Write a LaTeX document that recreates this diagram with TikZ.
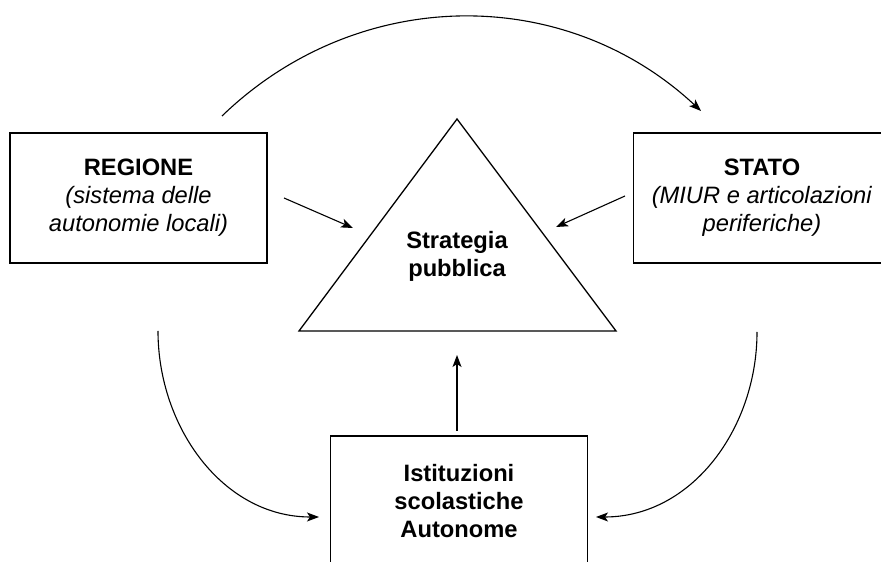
\documentclass[tikz,border=0pt]{standalone}
\usepackage{fontspec}
\setmainfont{Liberation Sans}
\usetikzlibrary{arrows.meta}
\begin{document}
\begin{tikzpicture}[x=1pt,y=1pt,
  box/.style={draw,line width=1.3pt,minimum width=257pt,minimum height=130pt,
    align=center,inner sep=0pt,font=\fontsize{23.7}{28}\selectfont},
  label/.style={align=center,inner sep=0pt,font=\fontsize{23.7}{28}\selectfont\bfseries},
  link/.style={line width=1.1pt,-{Stealth[length=12pt,width=9pt,inset=3pt]}}]
\useasboundingbox (0,0) rectangle (881,562);
\clip (0,0) rectangle (881,562);

% the three actors
\node[box] (regione) at (138.5,364) {\textbf{REGIONE}\\\textit{(sistema delle}\\\textit{autonomie locali)}};
\node[box] (stato) at (762,364) {\textbf{STATO}\\\textit{(MIUR e articolazioni}\\\textit{periferiche)}};
\node[box] (scuole) at (459,61) {\textbf{Istituzioni}\\\textbf{scolastiche}\\\textbf{Autonome}};

% central triangle
\coordinate (apex) at (457,443);
\coordinate (baseL) at (299,231);
\coordinate (baseR) at (616,231);
\draw[line width=1.3pt,line join=miter] (apex) -- (baseL) -- (baseR) -- cycle;
\node[label] (strategia) at (457,306) {Strategia\\pubblica};

% connector end points
\coordinate (rA) at (284,364);  \coordinate (rB) at (353,334);
\coordinate (sA) at (625,366);  \coordinate (sB) at (556,335);
\coordinate (bA) at (457,131);  \coordinate (bB) at (457,207);
\coordinate (tA) at (222,446);  \coordinate (tB) at (701,451);
\coordinate (lA) at (158,231);  \coordinate (lB) at (319,45);
\coordinate (qA) at (757,230);  \coordinate (qB) at (596,45);

% connectors
\draw[link] (rA) -- (rB);
\draw[link] (sA) -- (sB);
\draw[link] (bA) -- (bB);
\draw[link] (tA) to[out=44,in=137] (tB);
\draw[link] (lA) to[out=-90,in=180] (lB);
\draw[link] (qA) to[out=-90,in=0] (qB);
\end{tikzpicture}
\end{document}
